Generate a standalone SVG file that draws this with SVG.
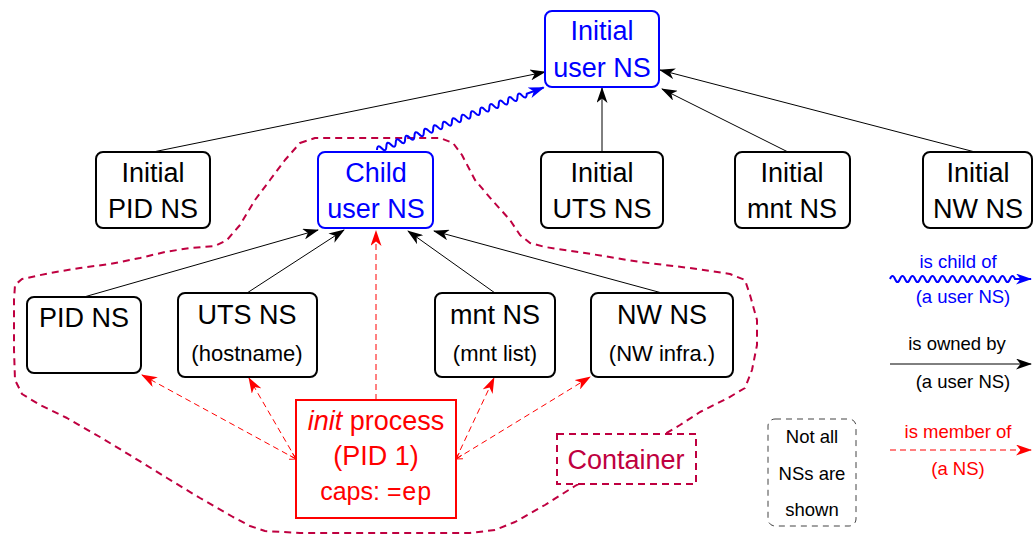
<svg xmlns="http://www.w3.org/2000/svg" width="1033" height="535" viewBox="0 0 1033 535">
<style>
.t{font-family:"Liberation Sans",Arial,sans-serif;text-anchor:middle;}
.big{font-size:27px;}
.sm{font-size:22px;}
.lg{font-size:18.5px;}
.box{fill:#fff;stroke:#000;stroke-width:2;}
.bbox{fill:#fff;stroke:#00f;stroke-width:2;}
.own{stroke:#000;stroke-width:1;fill:none;marker-end:url(#ab);}
.mem{stroke:#f00;stroke-width:1;fill:none;stroke-dasharray:6 4;marker-end:url(#ar);}
.memb{marker-start:url(#ars);}
.wave{stroke:#00f;stroke-width:2;fill:none;marker-end:url(#abl);}
.cont{stroke:#bf0040;stroke-width:2;fill:none;stroke-dasharray:7 5;stroke-linejoin:round;}
</style>
<defs>
<marker id="ab" viewBox="0 0 16 11" refX="15" refY="5.5" markerWidth="16" markerHeight="11" orient="auto" markerUnits="userSpaceOnUse"><path d="M0,0 L16,5.5 L0,11 L4.5,5.5 Z" fill="#000"/></marker>
<marker id="abl" viewBox="0 0 16 11" refX="15" refY="5.5" markerWidth="16" markerHeight="11" orient="auto" markerUnits="userSpaceOnUse"><path d="M0,0 L16,5.5 L0,11 L4.5,5.5 Z" fill="#00f"/></marker>
<marker id="ar" viewBox="0 0 16 11" refX="15" refY="5.5" markerWidth="16" markerHeight="11" orient="auto" markerUnits="userSpaceOnUse"><path d="M0,0 L16,5.5 L0,11 L4.5,5.5 Z" fill="#f00"/></marker>
<marker id="ars" viewBox="0 0 8 8" refX="7" refY="4" markerWidth="8" markerHeight="8" orient="auto-start-reverse" markerUnits="userSpaceOnUse"><path d="M1,0.5 L7,4 L1,7.5" fill="none" stroke="#f00" stroke-width="1"/></marker>
</defs>

<path id="container-outline" class="cont" d="M300,143 L315,138 L440,138 L453,143 L462,155 L475,180 L492,200 L510,220 L520,235 L530,243 L545,247 L585,253 L640,262 L690,268 L730,274 L745,280 L750,295 L757,320 L757,345 L752,370 L745,388 L728,398 L700,412 L680,425 L665,434 L575,486 L545,505 L515,522 L495,530 L470,533 L300,533 L265,531 L250,526 L233,517 L200,498 L167,478 L133,457 L100,437 L67,418 L40,405 L22,394 L15,380 L14,350 L14,300 L15,285 L22,279 L50,273 L80,268 L110,264 L140,258 L165,252 L190,248 L215,246 L227,240 L240,225 L255,200 L270,180 L285,160 Z"/>

<g id="connectors">
<line class="own" x1="153" y1="152" x2="545" y2="72"/>
<line class="own" x1="602" y1="152" x2="602" y2="88"/>
<line class="own" x1="788" y1="152" x2="662" y2="89"/>
<line class="own" x1="975" y1="152" x2="660" y2="70"/>
<line class="own" x1="84" y1="297" x2="318" y2="230"/>
<line class="own" x1="247" y1="293" x2="344" y2="230"/>
<line class="own" x1="495" y1="293" x2="408" y2="231"/>
<line class="own" x1="662" y1="293" x2="434" y2="231"/>
<g transform="translate(377,150) rotate(-20.56)">
<path class="wave" d="M0,0 q2.5,-6 5,0 t5,0 t5,0 t5,0 t5,0 t5,0 t5,0 t5,0 t5,0 t5,0 t5,0 t5,0 t5,0 t5,0 t5,0 t5,0 t5,0 t5,0 t5,0 t5,0 t5,0 t5,0 t5,0 t5,0 t5,0 t5,0 t5,0 t5,0 t5,0 t5,0 t5,0 t5,0 L178,0"/>
</g>
<line class="mem" x1="376" y1="400" x2="376" y2="231"/>
<line class="mem memb" x1="296" y1="459" x2="142" y2="375"/>
<line class="mem memb" x1="296" y1="459" x2="249" y2="378"/>
<line class="mem memb" x1="456" y1="459" x2="494" y2="378"/>
<line class="mem memb" x1="456" y1="459" x2="590" y2="377"/>
</g>

<g id="initial-user-ns">
<rect class="bbox" x="545" y="11" width="114" height="76" rx="7"/>
<text class="t big" x="602" y="40" fill="#00f">Initial</text>
<text class="t big" x="602" y="77" fill="#00f">user NS</text>
</g>
<g id="initial-pid-ns">
<rect class="box" x="96" y="152" width="114" height="76" rx="7"/>
<text class="t big" x="153" y="182">Initial</text>
<text class="t big" x="153" y="218">PID NS</text>
</g>
<g id="child-user-ns">
<rect class="bbox" x="318" y="152" width="115" height="76" rx="7"/>
<text class="t big" x="376" y="182" fill="#00f">Child</text>
<text class="t big" x="376" y="218" fill="#00f">user NS</text>
</g>
<g id="initial-uts-ns">
<rect class="box" x="541" y="152" width="122" height="76" rx="7"/>
<text class="t big" x="602" y="182">Initial</text>
<text class="t big" x="602" y="218">UTS NS</text>
</g>
<g id="initial-mnt-ns">
<rect class="box" x="735" y="152" width="115" height="76" rx="7"/>
<text class="t big" x="792" y="182">Initial</text>
<text class="t big" x="792" y="218">mnt NS</text>
</g>
<g id="initial-nw-ns">
<rect class="box" x="923" y="152" width="109" height="76" rx="7"/>
<text class="t big" x="978" y="182">Initial</text>
<text class="t big" x="978" y="218">NW NS</text>
</g>

<g id="pid-ns">
<rect class="box" x="27" y="297" width="114" height="76" rx="7"/>
<text class="t big" x="84" y="327">PID NS</text>
</g>
<g id="uts-ns">
<rect class="box" x="178" y="293" width="139" height="84" rx="7"/>
<text class="t big" x="247" y="324">UTS NS</text>
<text class="t sm" x="247" y="361">(hostname)</text>
</g>
<g id="mnt-ns">
<rect class="box" x="435" y="293" width="120" height="84" rx="7"/>
<text class="t big" x="495" y="324">mnt NS</text>
<text class="t sm" x="495" y="361">(mnt list)</text>
</g>
<g id="nw-ns">
<rect class="box" x="591" y="293" width="142" height="84" rx="7"/>
<text class="t big" x="662" y="324">NW NS</text>
<text class="t sm" x="662" y="361">(NW infra.)</text>
</g>

<g id="init-process">
<rect x="296" y="400" width="160" height="118" fill="#fff" stroke="#f00" stroke-width="2"/>
<text class="t big" x="376" y="430" fill="#f00"><tspan font-style="italic">init</tspan> process</text>
<text class="t big" x="376" y="465" fill="#f00">(PID 1)</text>
<text class="t" x="376" y="500" fill="#f00" font-size="25">caps: <tspan font-family="Liberation Mono,monospace">=ep</tspan></text>
</g>

<g id="container">
<rect x="557" y="434" width="139" height="50" fill="#fff" stroke="#bf0040" stroke-width="2" stroke-dasharray="7 5"/>
<text class="t big" x="626" y="469" fill="#bf0040">Container</text>
</g>

<g id="note">
<rect x="768" y="419" width="88" height="107" rx="7" fill="none" stroke="#444" stroke-width="1" stroke-dasharray="6 5"/>
<text class="t lg" x="812" y="443">Not all</text>
<text class="t lg" x="812" y="480">NSs are</text>
<text class="t lg" x="812" y="516">shown</text>
</g>

<g id="legend">
<text class="t lg" x="958" y="268" fill="#00f">is child of</text>
<path class="wave" d="M890,279 q2.5,-6 5,0 t5,0 t5,0 t5,0 t5,0 t5,0 t5,0 t5,0 t5,0 t5,0 t5,0 t5,0 t5,0 t5,0 t5,0 t5,0 t5,0 t5,0 t5,0 t5,0 t5,0 t5,0 t5,0 t5,0 t5,0 L1031,279"/>
<text class="t lg" x="963" y="303" fill="#00f">(a user NS)</text>
<text class="t lg" x="957" y="350">is owned by</text>
<line class="own" x1="890" y1="364" x2="1031" y2="364"/>
<text class="t lg" x="963" y="388">(a user NS)</text>
<text class="t lg" x="958" y="438" fill="#f00">is member of</text>
<line class="mem" x1="890" y1="450" x2="1031" y2="450"/>
<text class="t lg" x="958" y="475" fill="#f00">(a NS)</text>
</g>
</svg>
